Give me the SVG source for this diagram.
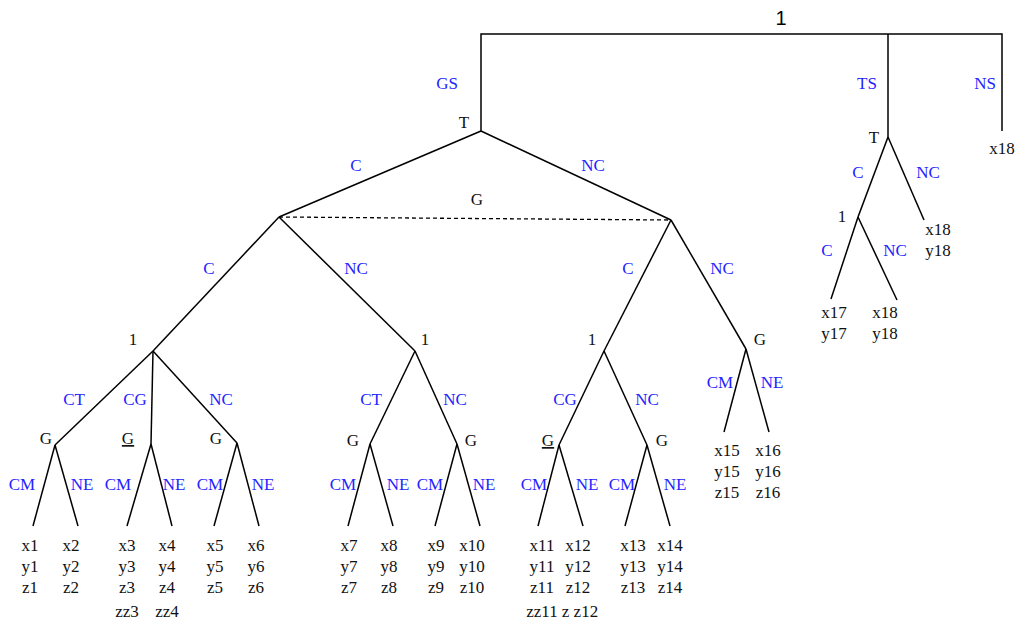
<svg xmlns="http://www.w3.org/2000/svg" width="1016" height="624" viewBox="0 0 1016 624">
<style>
.e{stroke:#000;stroke-width:1.5;fill:none}
.d{stroke:#000;stroke-width:1.3;fill:none;stroke-dasharray:4 3}
.t{font-family:"Liberation Serif","Times New Roman",serif;font-size:17px;fill:#111}
.b{font-family:"Liberation Serif","Times New Roman",serif;font-size:17px;fill:#2424ff}
.m{text-anchor:middle}
</style>
<rect width="1016" height="624" fill="#fff"/>
<g id="connectors">
<polyline class="e" points="481,131 481,34 1002,34 1002,131"/>
<line class="e" x1="888" y1="34" x2="888" y2="137"/>
<line class="e" x1="481" y1="131" x2="279" y2="217"/>
<line class="e" x1="481" y1="131" x2="671" y2="220"/>
<line class="d" x1="279" y1="217" x2="671" y2="220"/>
<line class="e" x1="279" y1="217" x2="153" y2="351"/>
<line class="e" x1="279" y1="217" x2="415" y2="351"/>
<line class="e" x1="671" y1="220" x2="604" y2="351"/>
<line class="e" x1="671" y1="220" x2="746" y2="349"/>
<line class="e" x1="153" y1="351" x2="55" y2="445"/>
<line class="e" x1="153" y1="351" x2="151" y2="444"/>
<line class="e" x1="153" y1="351" x2="237" y2="443"/>
<line class="e" x1="55" y1="445" x2="33" y2="526"/>
<line class="e" x1="55" y1="445" x2="78" y2="526"/>
<line class="e" x1="151" y1="444" x2="127" y2="526"/>
<line class="e" x1="151" y1="444" x2="172" y2="526"/>
<line class="e" x1="237" y1="443" x2="214" y2="526"/>
<line class="e" x1="237" y1="443" x2="259" y2="526"/>
<line class="e" x1="415" y1="351" x2="370" y2="444"/>
<line class="e" x1="415" y1="351" x2="457" y2="444"/>
<line class="e" x1="370" y1="444" x2="348" y2="526"/>
<line class="e" x1="370" y1="444" x2="393" y2="526"/>
<line class="e" x1="457" y1="444" x2="435" y2="526"/>
<line class="e" x1="457" y1="444" x2="480" y2="526"/>
<line class="e" x1="604" y1="351" x2="559" y2="445"/>
<line class="e" x1="604" y1="351" x2="647" y2="445"/>
<line class="e" x1="559" y1="445" x2="538" y2="526"/>
<line class="e" x1="559" y1="445" x2="583" y2="526"/>
<line class="e" x1="647" y1="445" x2="625" y2="526"/>
<line class="e" x1="647" y1="445" x2="670" y2="526"/>
<line class="e" x1="746" y1="349" x2="724" y2="432"/>
<line class="e" x1="746" y1="349" x2="769" y2="432"/>
<line class="e" x1="888" y1="137" x2="858" y2="217"/>
<line class="e" x1="888" y1="137" x2="924" y2="220"/>
<line class="e" x1="858" y1="217" x2="831" y2="299"/>
<line class="e" x1="858" y1="217" x2="897" y2="300"/>
<g class="b m">
<text x="447" y="89">GS</text>
<text x="867" y="89">TS</text>
<text x="985" y="89">NS</text>
<text x="356" y="171">C</text>
<text x="593" y="171">NC</text>
<text x="209" y="274">C</text>
<text x="356" y="274">NC</text>
<text x="628" y="274">C</text>
<text x="722" y="274">NC</text>
<text x="858" y="178">C</text>
<text x="928" y="178">NC</text>
<text x="827" y="256">C</text>
<text x="895" y="256">NC</text>
<text x="74" y="405">CT</text>
<text x="135" y="405">CG</text>
<text x="221" y="405">NC</text>
<text x="371" y="405">CT</text>
<text x="455" y="405">NC</text>
<text x="565" y="405">CG</text>
<text x="647" y="405">NC</text>
<text x="720" y="388">CM</text>
<text x="772" y="388">NE</text>
<text x="22" y="490">CM</text>
<text x="82" y="490">NE</text>
<text x="118" y="490">CM</text>
<text x="174" y="490">NE</text>
<text x="210" y="490">CM</text>
<text x="263" y="490">NE</text>
<text x="343" y="490">CM</text>
<text x="398" y="490">NE</text>
<text x="430" y="490">CM</text>
<text x="484" y="490">NE</text>
<text x="534" y="490">CM</text>
<text x="587" y="490">NE</text>
<text x="622" y="490">CM</text>
<text x="675" y="490">NE</text>
</g>
</g>
<g id="root"><text x="781" y="25" class="m" style="font-family:'Liberation Sans',Arial,sans-serif;font-size:20px;fill:#000">1</text></g>
<g id="n-gs-T"><text class="t m" x="464" y="128">T</text></g>
<g id="n-ts-T"><text class="t m" x="874" y="143">T</text></g>
<g id="n-ns-leaf"><text class="t m" x="1002" y="154">x18</text></g>
<g id="n-G-info"><text class="t m" x="477" y="205">G</text></g>
<g id="n-ts-1"><text class="t m" x="842" y="222">1</text></g>
<g id="n-ts-nc-leaf"><text class="t m" x="938" y="235">x18</text><text class="t m" x="938" y="256">y18</text></g>
<g id="n-ts-c-leaf"><text class="t m" x="834" y="318">x17</text><text class="t m" x="834" y="339">y17</text></g>
<g id="n-ts-cnc-leaf"><text class="t m" x="885" y="318">x18</text><text class="t m" x="885" y="339">y18</text></g>
<g id="n-1a"><text class="t m" x="133" y="345">1</text></g>
<g id="n-1b"><text class="t m" x="425" y="345">1</text></g>
<g id="n-1c"><text class="t m" x="592" y="345">1</text></g>
<g id="n-Gd"><text class="t m" x="760" y="345">G</text></g>
<g id="n-G1"><text class="t m" x="46" y="444">G</text></g>
<g id="n-G2"><text class="t m" x="128" y="444" text-decoration="underline">G</text></g>
<g id="n-G3"><text class="t m" x="216" y="444">G</text></g>
<g id="n-G4"><text class="t m" x="353" y="446">G</text></g>
<g id="n-G5"><text class="t m" x="471" y="446">G</text></g>
<g id="n-G6"><text class="t m" x="548" y="446" text-decoration="underline">G</text></g>
<g id="n-G7"><text class="t m" x="662" y="446">G</text></g>
<g id="n-leaf15"><text class="t m" x="727" y="456">x15</text><text class="t m" x="727" y="477">y15</text><text class="t m" x="727" y="498">z15</text></g>
<g id="n-leaf16"><text class="t m" x="768" y="456">x16</text><text class="t m" x="768" y="477">y16</text><text class="t m" x="768" y="498">z16</text></g>
<g id="n-leaf1"><text class="t m" x="30" y="551">x1</text><text class="t m" x="30" y="572">y1</text><text class="t m" x="30" y="593">z1</text></g>
<g id="n-leaf2"><text class="t m" x="71" y="551">x2</text><text class="t m" x="71" y="572">y2</text><text class="t m" x="71" y="593">z2</text></g>
<g id="n-leaf3"><text class="t m" x="127" y="551">x3</text><text class="t m" x="127" y="572">y3</text><text class="t m" x="127" y="593">z3</text><text class="t m" x="127" y="617">zz3</text></g>
<g id="n-leaf4"><text class="t m" x="167" y="551">x4</text><text class="t m" x="167" y="572">y4</text><text class="t m" x="167" y="593">z4</text><text class="t m" x="167" y="617">zz4</text></g>
<g id="n-leaf5"><text class="t m" x="215" y="551">x5</text><text class="t m" x="215" y="572">y5</text><text class="t m" x="215" y="593">z5</text></g>
<g id="n-leaf6"><text class="t m" x="256" y="551">x6</text><text class="t m" x="256" y="572">y6</text><text class="t m" x="256" y="593">z6</text></g>
<g id="n-leaf7"><text class="t m" x="349" y="551">x7</text><text class="t m" x="349" y="572">y7</text><text class="t m" x="349" y="593">z7</text></g>
<g id="n-leaf8"><text class="t m" x="389" y="551">x8</text><text class="t m" x="389" y="572">y8</text><text class="t m" x="389" y="593">z8</text></g>
<g id="n-leaf9"><text class="t m" x="436" y="551">x9</text><text class="t m" x="436" y="572">y9</text><text class="t m" x="436" y="593">z9</text></g>
<g id="n-leaf10"><text class="t m" x="472" y="551">x10</text><text class="t m" x="472" y="572">y10</text><text class="t m" x="472" y="593">z10</text></g>
<g id="n-leaf11"><text class="t m" x="542" y="551">x11</text><text class="t m" x="542" y="572">y11</text><text class="t m" x="542" y="593">z11</text><text class="t m" x="542" y="617">zz11</text></g>
<g id="n-leaf12"><text class="t m" x="578" y="551">x12</text><text class="t m" x="578" y="572">y12</text><text class="t m" x="578" y="593">z12</text><text class="t m" x="580" y="617">z z12</text></g>
<g id="n-leaf13"><text class="t m" x="633" y="551">x13</text><text class="t m" x="633" y="572">y13</text><text class="t m" x="633" y="593">z13</text></g>
<g id="n-leaf14"><text class="t m" x="670" y="551">x14</text><text class="t m" x="670" y="572">y14</text><text class="t m" x="670" y="593">z14</text></g>
</svg>
